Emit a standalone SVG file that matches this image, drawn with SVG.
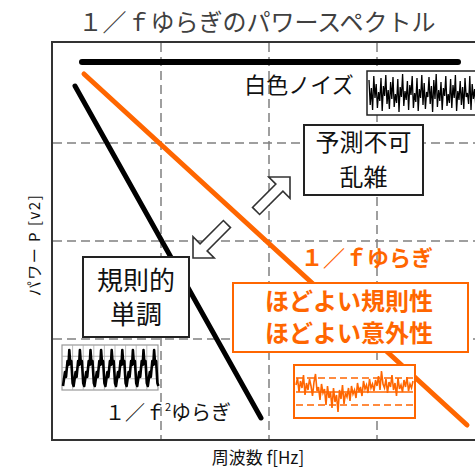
<svg xmlns="http://www.w3.org/2000/svg" width="475" height="470" viewBox="0 0 475 470">
<style>
.jp{font-family:"Noto Sans CJK JP","Noto Sans",sans-serif;}
.grid{stroke:#808080;stroke-width:1.5;stroke-dasharray:9 5;fill:none;}
.box{fill:#fff;stroke:#222;stroke-width:2;}
.obox{fill:#fff;stroke:#ff6600;stroke-width:2;}
.arrow{fill:#fff;stroke:#333;stroke-width:1.6;stroke-linejoin:miter;}
</style>
<defs>
<polygon id="blockArrow" points="0,0 -15,-15 -15,-5 -48,-5 -48,5 -15,5 -15,15"/>
<clipPath id="wnClip"><rect x="368" y="72" width="107" height="42"/></clipPath>
<clipPath id="onClip"><rect x="295" y="366" width="119" height="51"/></clipPath>
</defs>
<rect width="475" height="470" fill="#fff"/>
<text class="jp" x="257" y="31" font-size="24" fill="#404040" text-anchor="middle">１／ｆゆらぎのパワースペクトル</text>
<g id="frame">
<path d="M475,42 H52 V440 H475" fill="none" stroke="#333" stroke-width="2"/>
<path class="grid" d="M161,43 V439 M269,43 V439 M377,43 V439 M53,143 H475 M53,241 H475 M53,339 H475"/>
</g>
<g id="connectors">
<line x1="82" y1="62" x2="458" y2="62" stroke="#000" stroke-width="6" stroke-linecap="round"/>
<line x1="84" y1="74" x2="467" y2="425" stroke="#ff6600" stroke-width="5" stroke-linecap="round"/>
<line x1="75" y1="86" x2="261" y2="418" stroke="#000" stroke-width="5" stroke-linecap="round"/>
<use href="#blockArrow" class="arrow" transform="translate(290,177) rotate(-45)"/>
<use href="#blockArrow" class="arrow" transform="translate(193,258) rotate(135)"/>
</g>
<g id="whiteNoise">
<text class="jp" x="299" y="93" font-size="22" fill="#111" text-anchor="middle">白色ノイズ</text>
<rect x="367" y="71" width="110" height="44" fill="#fff" stroke="#222" stroke-width="1.5"/>
<polyline clip-path="url(#wnClip)" fill="none" stroke="#000" stroke-width="1.3" points="369,80 370.2,105 371.4,88 372.6,110 373.8,76 375,98 376.2,84 377.4,108 378.6,92 379.8,101 381,78 382.2,111 383.4,86 384.6,96 385.8,75 387,104 388.2,90 389.4,109 390.6,82 391.8,99 393,77 394.2,107 395.4,94 396.6,103 397.8,79 399,112 400.2,87 401.4,97 402.6,74 403.8,106 405,91 406.2,100 407.4,81 408.6,110 409.8,85 411,95 412.2,76 413.4,108 414.6,93 415.8,102 417,78 418.2,111 419.4,89 420.6,98 421.8,75 423,105 424.2,83 425.4,109 426.6,92 427.8,97 429,77 430.2,104 431.4,86 432.6,112 433.8,80 435,99 436.2,74 437.4,107 438.6,90 439.8,101 441,82 442.2,110 443.4,88 444.6,96 445.8,76 447,106 448.2,94 449.4,103 450.6,79 451.8,108 453,85 454.2,98 455.4,75 456.6,111 457.8,91 459,100 460.2,81 461.4,105 462.6,87 463.8,109 465,78 466.2,97 467.4,93 468.6,104 469.8,76 471,110 472.2,84 473.4,99 474.6,89 475.8,106"/>
</g>
<g id="unpredictable">
<rect class="box" x="304" y="125" width="119" height="70"/>
<text class="jp" x="363.5" y="151" font-size="24" fill="#111" text-anchor="middle">予測不可</text>
<text class="jp" x="363.5" y="186" font-size="24" fill="#111" text-anchor="middle">乱雑</text>
</g>
<g id="regular">
<rect class="box" x="83" y="257" width="106" height="80"/>
<text class="jp" x="136" y="290" font-size="26" fill="#111" text-anchor="middle">規則的</text>
<text class="jp" x="136" y="324" font-size="26" fill="#111" text-anchor="middle">単調</text>
</g>
<g id="fLabel">
<text class="jp" x="367" y="266" font-size="22" font-weight="bold" fill="#ff6600" text-anchor="middle">１／ｆゆらぎ</text>
</g>
<g id="moderate">
<rect class="obox" x="233" y="283" width="235" height="69"/>
<text class="jp" x="349" y="310" font-size="24" font-weight="bold" fill="#ff6600" text-anchor="middle">ほどよい規則性</text>
<text class="jp" x="349" y="342" font-size="24" font-weight="bold" fill="#ff6600" text-anchor="middle">ほどよい意外性</text>
</g>
<g id="sineWave">
<rect x="62" y="345" width="96" height="45" fill="#fff" stroke="#999" stroke-width="1.2"/>
<path d="M72.6,345V390M83.2,345V390M93.8,345V390M104.4,345V390M115,345V390M125.6,345V390M136.2,345V390M146.8,345V390M62,356.25H158M62,367.5H158M62,378.75H158" stroke="#aaa" stroke-width="0.8" fill="none"/>
<path d="M63,386 l2,-14 l1,5 l1.5,-16 l1,4 l0.8,-15 l1,14 l1,-3 l1.3,22 l1,3 l2,-14 l1,5 l1.5,-16 l1,4 l0.8,-15 l1,14 l1,-3 l1.3,22 l1,3 l2,-14 l1,5 l1.5,-16 l1,4 l0.8,-15 l1,14 l1,-3 l1.3,22 l1,3 l2,-14 l1,5 l1.5,-16 l1,4 l0.8,-15 l1,14 l1,-3 l1.3,22 l1,3 l2,-14 l1,5 l1.5,-16 l1,4 l0.8,-15 l1,14 l1,-3 l1.3,22 l1,3 l2,-14 l1,5 l1.5,-16 l1,4 l0.8,-15 l1,14 l1,-3 l1.3,22 l1,3 l2,-14 l1,5 l1.5,-16 l1,4 l0.8,-15 l1,14 l1,-3 l1.3,22 l1,3 l2,-14 l1,5 l1.5,-16 l1,4 l0.8,-15 l1,14 l1,-3 l1.3,22 l1,3 l2,-14 l1,5 l1.5,-16 l1,4 l0.8,-15 l1,14 l1,-3 l1.3,22 l1,3" fill="none" stroke="#000" stroke-width="2.6" stroke-linejoin="round"/>
<text class="jp" x="168" y="420" font-size="20" fill="#111" text-anchor="middle">１／ｆ<tspan font-size="11" dy="-9">2</tspan><tspan dy="9">ゆらぎ</tspan></text>
</g>
<g id="oneOverFNoise">
<rect class="obox" x="294" y="365" width="121" height="53"/>
<path d="M296,378H413M296,405H413" stroke="#ff6600" stroke-width="1.5" stroke-dasharray="7 4" fill="none"/>
<path d="M296,392H413" stroke="#ff6600" stroke-width="1.5" fill="none"/>
<polyline clip-path="url(#onClip)" fill="none" stroke="#ff6600" stroke-width="1.6" points="296,385 297.5,378 299,392 300.5,381 302,388 303.5,375 305,395 306.5,383 308,390 309.5,379 311,386 312.5,396 314,382 315.5,374 317,391 318.5,387 320,400 321.5,384 323,393 324.5,389 326,405 327.5,386 329,398 330.5,392 332,408 333.5,388 335,402 336.5,395 338,412 339.5,390 341,399 342.5,385 344,404 345.5,393 347,397 348.5,388 350,401 351.5,386 353,394 354.5,390 356,398 357.5,383 359,392 360.5,387 362,396 363.5,381 365,389 366.5,385 368,393 369.5,379 371,388 372.5,384 374,391 375.5,380 377,386 378.5,376 380,390 381.5,371 383,384 384.5,388 386,379 387.5,393 389,382 390.5,387 392,375 393.5,390 395,383 396.5,396 398,378 399.5,389 401,385 402.5,392 404,380 405.5,387 407,377 408.5,391 410,384 411.5,388 413,381"/>
</g>
<g id="axisLabels">
<text class="jp" x="258" y="464" font-size="17" fill="#111" text-anchor="middle">周波数 f[Hz]</text>
<text class="jp" transform="translate(40,245) rotate(-90)" font-size="15" letter-spacing="1.5" fill="#111" text-anchor="middle">パワー P [v2]</text>
</g>
</svg>
